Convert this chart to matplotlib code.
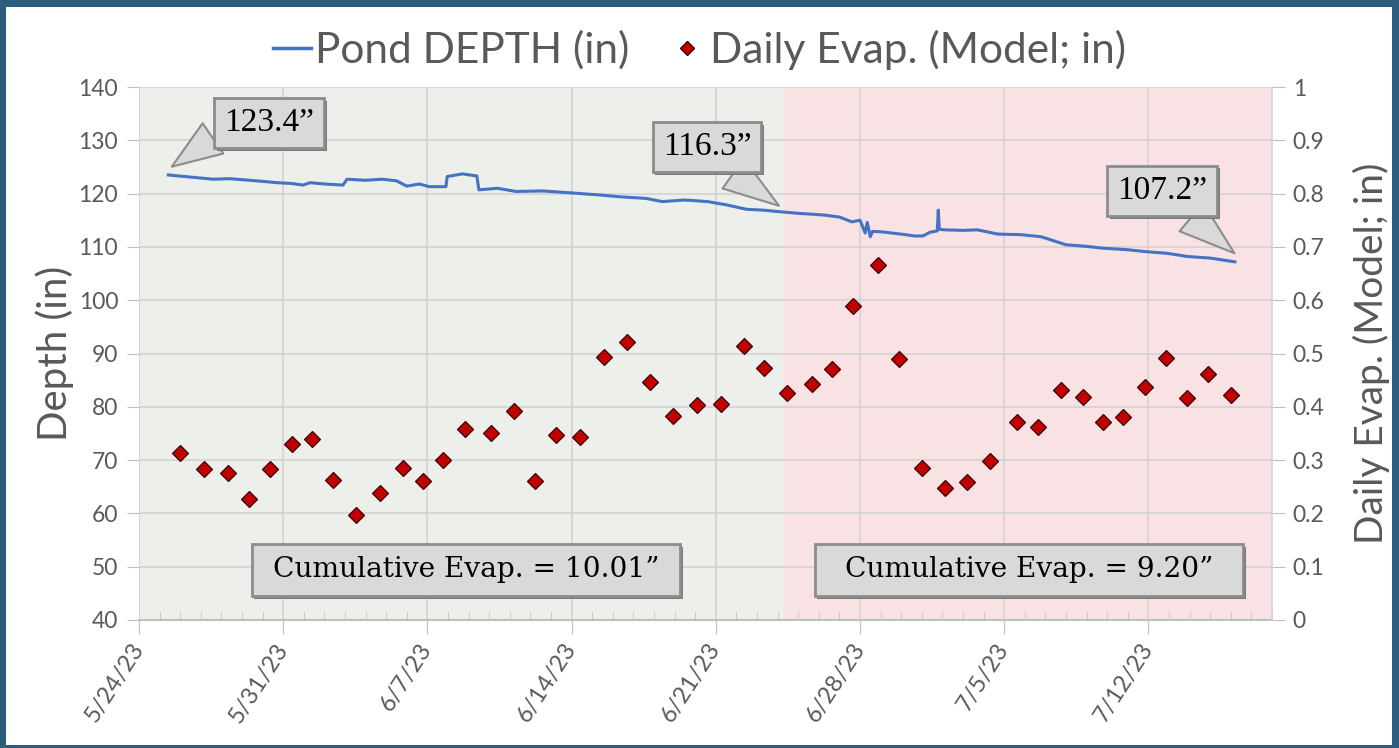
import datetime as dt

import matplotlib
matplotlib.use('Agg')
import matplotlib.dates as mdates
import matplotlib.patheffects as pe
import matplotlib.pyplot as plt
from matplotlib.lines import Line2D
from matplotlib.patches import Rectangle

# Data (days after 5/24/23)
start = dt.datetime(2023, 5, 24)

depth_days = [1.42, 2.5, 3.6, 4.4, 5.2, 6.0, 6.7, 7.4, 7.96, 8.3, 9.0, 9.9,
              10.1, 11.0, 11.8, 12.5, 13.0, 13.6, 14.1, 14.9, 14.96, 15.7,
              16.4, 16.5, 17.4, 18.3, 19.6, 21.1, 22.5, 23.35, 24.6, 25.4,
              26.5, 27.6, 28.5, 29.5, 30.3, 31.1, 32.0, 33.2, 34.0, 34.6,
              35.0, 35.1, 35.25, 35.35, 35.5, 35.6, 36.0, 37.0, 37.65, 38.05,
              38.4, 38.75, 38.8, 38.85, 39.1, 40.0, 40.7, 41.7, 42.8, 43.8,
              45.0, 46.0, 46.8, 47.9, 48.9, 49.9, 50.9, 52.0, 53.2]
depth_in = [123.5, 123.1, 122.7, 122.8, 122.55, 122.3, 122.05, 121.9, 121.6,
            122.05, 121.8, 121.6, 122.7, 122.5, 122.7, 122.4, 121.4, 121.8,
            121.3, 121.3, 123.2, 123.7, 123.3, 120.7, 121.0, 120.4, 120.5,
            120.1, 119.7, 119.4, 119.1, 118.5, 118.8, 118.5, 117.9, 117.05,
            116.9, 116.6, 116.3, 116.0, 115.6, 114.7, 115.0, 114.1, 112.6,
            114.6, 111.9, 112.9, 112.85, 112.4, 112.05, 112.05, 112.75, 113.0,
            116.9, 113.3, 113.2, 113.1, 113.2, 112.4, 112.3, 111.9, 110.4,
            110.1, 109.75, 109.5, 109.1, 108.8, 108.2, 107.9, 107.2]

evap_days = [2.01, 3.16, 4.30, 5.34, 6.36, 7.41, 8.39, 9.41, 10.51, 11.72,
             12.82, 13.79, 14.78, 15.81, 17.09, 18.20, 19.22, 20.24, 21.41,
             22.57, 23.71, 24.83, 25.92, 27.09, 28.25, 29.35, 30.34, 31.44,
             32.66, 33.63, 34.67, 35.89, 36.91, 38.00, 39.13, 40.18, 41.31,
             42.61, 43.63, 44.76, 45.81, 46.78, 47.78, 48.83, 49.84, 50.86,
             51.91, 52.99]
evap_in = [0.313, 0.283, 0.275, 0.227, 0.283, 0.330, 0.339, 0.263, 0.197,
           0.238, 0.285, 0.261, 0.300, 0.358, 0.351, 0.392, 0.261, 0.347,
           0.344, 0.493, 0.521, 0.447, 0.383, 0.403, 0.405, 0.515, 0.472,
           0.425, 0.443, 0.470, 0.589, 0.666, 0.489, 0.285, 0.248, 0.258,
           0.299, 0.371, 0.362, 0.432, 0.418, 0.371, 0.381, 0.438, 0.491,
           0.416, 0.462, 0.422]

split_day = 31.3
end_day = 55
# tip (day, depth), box centre (day, depth), label, where the tail leaves the box
callouts = [(1.59, 125.05, 6.31, 133.2, '123.4\u201d', (0.0, 0.25)),
            (31.07, 117.7, 27.57, 128.7, '116.3\u201d', (0.62, 0.0)),
            (53.18, 108.8, 49.66, 120.5, '107.2\u201d', (0.68, 0.0))]
cumulative = [(15.87, 49.4, 'Cumulative Evap. = 10.01\u201d'),
              (43.2, 49.4, 'Cumulative Evap. = 9.20\u201d')]


def to_date(d):
    return start + dt.timedelta(days=d)


gray = '#595959'
plt.rcParams['font.family'] = ['Lato', 'DejaVu Sans']

fig = plt.figure(figsize=(13.99, 7.48), dpi=100)
fig.patch.set_facecolor('#2d5d7c')
fig.add_artist(Rectangle((6 / 1399, 3 / 748), 1386 / 1399, 738 / 748,
                         transform=fig.transFigure, fc='white', ec='none', zorder=-10))

ax = fig.add_axes([139 / 1399, 1 - 620 / 748, 1133 / 1399, 533 / 748])
ax.set_facecolor('none')
ax2 = ax.twinx()

# shaded periods
ax.axvspan(to_date(0), to_date(split_day), color='#edf0ea', zorder=0)
ax.axvspan(to_date(split_day), to_date(end_day), color='#f9e2e4', zorder=0)

ax.plot([to_date(d) for d in depth_days], depth_in, color='#4472c4', lw=2.2,
        zorder=3)
ax2.plot([to_date(d) for d in evap_days], evap_in, linestyle='none', marker='D',
         ms=8.5, mfc='#c00000', mec='#3a0000', mew=0.9, zorder=4)

ax.set_xlim(to_date(0), to_date(end_day))
ax.set_ylim(40, 140)
ax2.set_ylim(0, 1)
ax.set_yticks(range(40, 141, 10))
ax2.set_yticks([i / 10 for i in range(11)])
ax2.set_yticklabels(['0'] + ['0.%d' % i for i in range(1, 10)] + ['1'])

ax.set_xticks([to_date(d) for d in range(0, end_day, 7)])
ax.xaxis.set_major_formatter(mdates.DateFormatter('%-m/%-d/%y'))
ax.xaxis.set_minor_locator(mdates.DayLocator())

ax.grid(True, which='major', color='#d3d3d3', lw=1.2, zorder=1)
ax.set_axisbelow(True)

for a in (ax, ax2):
    for s in a.spines.values():
        s.set_visible(False)
ax.spines['bottom'].set_visible(True)
ax.spines['bottom'].set_color('#bfbfbf')
ax.spines['bottom'].set_linewidth(1.5)
ax2.spines['right'].set_visible(True)
ax2.spines['right'].set_color('#d3d3d3')
ax2.spines['right'].set_linewidth(1.2)

ax.tick_params(axis='x', which='major', direction='out', length=10, color='#bfbfbf',
               labelsize=17, labelcolor=gray, pad=8)
ax.tick_params(axis='x', which='minor', direction='in', length=6, color='#bfbfbf')
ax.tick_params(axis='y', direction='out', length=9, color='#bfbfbf', labelsize=16.5,
               labelcolor=gray, pad=6)
ax2.tick_params(axis='y', direction='out', length=9, color='#bfbfbf', labelsize=16.5,
                labelcolor=gray, pad=6)
for lab in ax.get_xticklabels():
    lab.set_rotation(57)
    lab.set_ha('right')
    lab.set_va('center')
    lab.set_rotation_mode('anchor')

ax.set_ylabel('Depth (in)', fontsize=29, color=gray, labelpad=3)
ax2.set_ylabel('Daily Evap. (Model; in)', fontsize=28, color=gray, labelpad=20)

shadow = [pe.SimplePatchShadow(offset=(2, -2), shadow_rgbFace='#6e6e6e', alpha=0.9),
          pe.Normal()]

# callouts
for tx, ty, bx, by, txt, rel in callouts:
    an = ax.annotate(txt, xy=(to_date(tx), ty), xytext=(to_date(bx), by),
                     ha='center', va='center', fontsize=24, family='Liberation Serif',
                     color='black', zorder=6,
                     bbox=dict(boxstyle='square,pad=0.3', fc='#d9d9d9', ec='#8c8c8c', lw=2),
                     arrowprops=dict(arrowstyle='wedge,tail_width=1.1,shrink_factor=0.5',
                                     fc='#d9d9d9', ec='#8c8c8c', lw=1.5, relpos=rel,
                                     shrinkA=0, shrinkB=0))
    an.get_bbox_patch().set_path_effects(shadow)

# cumulative boxes: fixed size in data units (days x inches)
box_w, box_h = 20.8, 9.8
for bx, by, txt in cumulative:
    r = Rectangle((mdates.date2num(to_date(bx - box_w / 2)), by - box_h / 2), box_w, box_h,
                  fc='#d9d9d9', ec='#8c8c8c', lw=2, zorder=5)
    r.set_path_effects(shadow)
    ax.add_patch(r)
    ax.text(to_date(bx), by, txt, ha='center', va='center', fontsize=20.2,
            family='DejaVu Serif', color='black', zorder=6)

handles = [Line2D([], [], color='#4472c4', lw=2.5),
           Line2D([], [], linestyle='none', marker='D', ms=7, mfc='#c00000', mec='#3a0000')]
fig.legend(handles, ['Pond DEPTH (in)', 'Daily Evap. (Model; in)'], loc='center',
           bbox_to_anchor=(0.5, 1 - 50 / 748), ncol=2, frameon=False, fontsize=30.5,
           labelcolor=gray, handlelength=0.9, handletextpad=0.1, columnspacing=0.9)

fig.savefig('out.png', dpi=100, facecolor=fig.get_facecolor())
